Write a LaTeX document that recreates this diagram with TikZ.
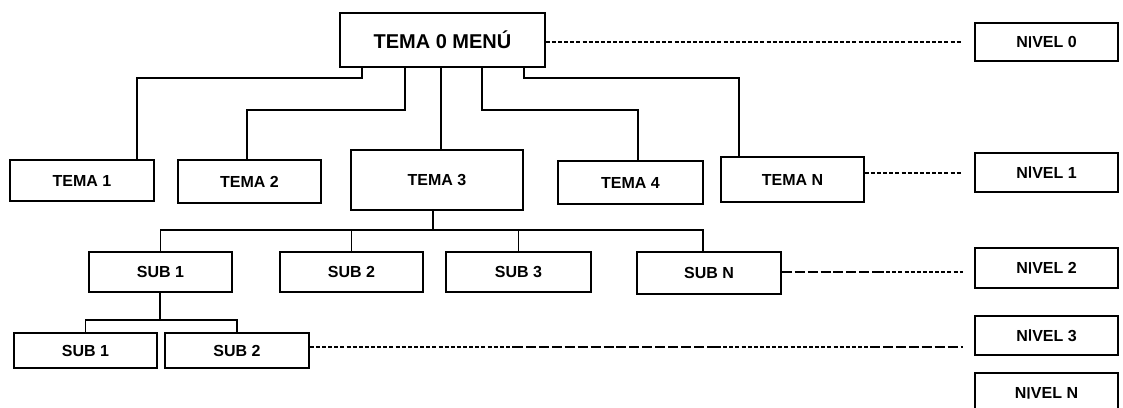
\documentclass[tikz,border=0pt]{standalone}
\usepackage{fontspec}
\setmainfont{Liberation Sans}
\newcommand{\barra}{\raisebox{0.16em}{\scalebox{1}[0.76]{|}}}

\begin{document}
\begin{tikzpicture}[x=0.75pt, y=-0.75pt,
    caja/.style={draw, line width=1.1pt, inner sep=0pt, font=\fontsize{12}{14}\selectfont\bfseries},
    linea/.style={line width=1.1pt},
    guia/.style={line width=0.9pt, dash pattern=on 3pt off 1.6pt},
    guialarga/.style={line width=0.9pt, dash pattern=on 7.5pt off 2.2pt}]
    \useasboundingbox (0,0) rectangle (1123,407);

    % Nivel 0
    \node[caja, minimum width=153.75pt, minimum height=40.5pt, font=\fontsize{15}{17}\selectfont\bfseries] (t0) at (442.5,40) {TEMA 0 MENÚ};
    \node[caja, minimum width=107.25pt, minimum height=28.5pt] (n0) at (1046.5,42) {N\barra VEL 0};

    % Nivel 1
    \node[caja, minimum width=108pt, minimum height=30.75pt] (t1) at (82,180.5) {TEMA 1};
    \node[caja, minimum width=107.25pt, minimum height=32.25pt] (t2) at (249.5,181.5) {TEMA 2};
    \node[caja, minimum width=129pt, minimum height=45pt] (t3) at (437,180) {TEMA 3};
    \node[caja, minimum width=108.75pt, minimum height=32.25pt] (t4) at (630.5,182.5) {TEMA 4};
    \node[caja, minimum width=107.25pt, minimum height=33.75pt] (tN) at (792.5,179.5) {TEMA N};
    \node[caja, minimum width=107.25pt, minimum height=29.25pt] (n1) at (1046.5,172.5) {N\barra VEL 1};

    % Nivel 2
    \node[caja, minimum width=107.25pt, minimum height=30pt] (s1) at (160.5,272) {SUB 1};
    \node[caja, minimum width=107.25pt, minimum height=30pt] (s2) at (351.5,272) {SUB 2};
    \node[caja, minimum width=108.75pt, minimum height=30pt] (s3) at (518.5,272) {SUB 3};
    \node[caja, minimum width=108pt, minimum height=31.5pt] (sN) at (709,273) {SUB N};
    \node[caja, minimum width=107.25pt, minimum height=30pt] (n2) at (1046.5,268) {N\barra VEL 2};

    % Nivel 3
    \node[caja, minimum width=107.25pt, minimum height=26.25pt] (ss1) at (85.5,350.5) {SUB 1};
    \node[caja, minimum width=108pt, minimum height=26.25pt] (ss2) at (237,350.5) {SUB 2};
    \node[caja, minimum width=107.25pt, minimum height=29.25pt] (n3) at (1046.5,335.5) {N\barra VEL 3};

    % Nivel N
    \node[caja, minimum width=107.25pt, minimum height=30pt] (nN) at (1046.5,393) {N\barra VEL N};

    % Ramas del menu
    \draw[linea] (t0.south -| 362,0) |- (137,78) -- (t1.north -| 137,0);
    \draw[linea] (t0.south -| 405,0) |- (247,110) -- (t2.north -| 247,0);
    \draw[linea] (t0.south -| 441,0) -- (t3.north -| 441,0);
    \draw[linea] (t0.south -| 482,0) |- (638,110) -- (t4.north -| 638,0);
    \draw[linea] (t0.south -| 524,0) |- (739,78) -- (tN.north -| 739,0);

    % Ramas de TEMA 3
    \coordinate (r3) at (433,230);
    \draw[linea] (t3.south -| r3) -- (r3);
    \foreach \s in {s1,s2,s3} \draw[linea] (r3) -| (\s.north);
    \draw[linea] (r3) -| (sN.north -| 703,0);

    % Ramas de SUB 1
    \coordinate (r1) at (160,320);
    \draw[linea] (s1.south -| r1) -- (r1);
    \draw[linea] (r1) -| (ss1.north);
    \draw[linea] (r1) -| (ss2.north);

    % Lineas de nivel
    \draw[guia] (t0.east |- n0.west) -- (961,42);
    \draw[guia] (tN.east |- 0,173) -- (961,173);
    \coordinate (m2) at (880,272);
    \draw[guialarga] (sN.east |- m2) -- (m2);
    \draw[guia] (m2) -- (963,272);
    \coordinate (m3a) at (513,347);
    \coordinate (m3b) at (717,347);
    \coordinate (m3c) at (870,347);
    \draw[guia] (ss2.east |- m3a) -- (m3a);
    \draw[guialarga] (m3a) -- (m3b);
    \draw[guia] (m3b) -- (m3c);
    \draw[guialarga] (m3c) -- (963,347);

\end{tikzpicture}
\end{document}
